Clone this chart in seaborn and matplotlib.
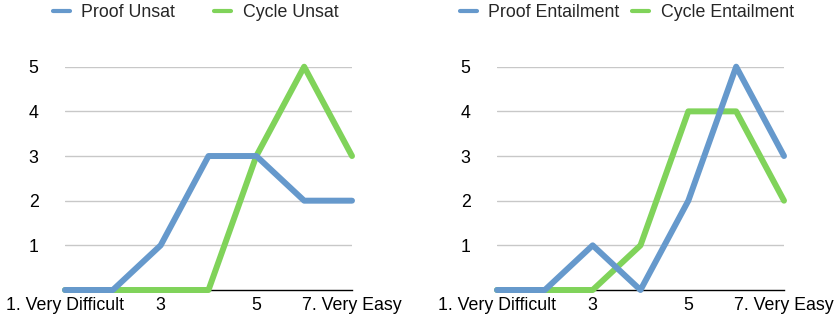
import matplotlib
matplotlib.use("Agg")
import matplotlib.pyplot as plt
from matplotlib.lines import Line2D
import seaborn as sns
import pandas as pd

# Difficulty ratings on a 1-7 scale
ratings = [1, 2, 3, 4, 5, 6, 7]
tick_positions = [1, 3, 5, 7]
tick_labels = ["1. Very Difficult", "3", "5", "7. Very Easy"]

proof_unsat = [0, 0, 1, 3, 3, 2, 2]
cycle_unsat = [0, 0, 0, 0, 3, 5, 3]
proof_entailment = [0, 0, 1, 0, 2, 5, 3]
cycle_entailment = [0, 0, 0, 1, 4, 4, 2]

BLUE = "#6699CC"
GREEN = "#80D35A"
FS = 12.8

sns.set_theme(style="white")
plt.rcParams["font.family"] = ["Liberation Sans", "DejaVu Sans"]

fig = plt.figure(figsize=(8.36, 3.26), dpi=100)
ax_left = fig.add_axes([65 / 836, 1 - 290 / 326, 287 / 836, (290 - 66.7) / 326])
ax_right = fig.add_axes([497 / 836, 1 - 290 / 326, 287 / 836, (290 - 66.7) / 326])

panels = [
    (ax_left, "Proof Unsat", proof_unsat, "Cycle Unsat", cycle_unsat, 53, 2.2),
    (ax_right, "Proof Entailment", proof_entailment, "Cycle Entailment", cycle_entailment, 460, 0.7),
]

for ax, name_a, vals_a, name_b, vals_b, leg_x, colsp in panels:
    df = pd.DataFrame({
        "rating": ratings * 2,
        "count": vals_a + vals_b,
        "series": [name_a] * len(ratings) + [name_b] * len(ratings),
    })
    sns.lineplot(data=df, x="rating", y="count", hue="series",
                 hue_order=[name_b, name_a],
                 palette={name_a: BLUE, name_b: GREEN},
                 linewidth=4.3, ax=ax, legend=False, clip_on=False, zorder=3)
    ax.set_xlim(1, 7)
    ax.set_ylim(0, 5)
    ax.set_yticks([1, 2, 3, 4, 5])
    ax.set_yticklabels(["1", "2", "3", "4", "5"])
    ax.set_xticks(tick_positions)
    ax.set_xticklabels(tick_labels)
    ax.tick_params(axis="both", length=0, labelsize=FS, colors="black")
    ax.tick_params(axis="y", pad=19)
    ax.tick_params(axis="x", pad=5)
    ax.yaxis.grid(True, color="#C8C8C8", linewidth=1)
    ax.set_axisbelow(True)
    for side in ["left", "right", "top"]:
        ax.spines[side].set_visible(False)
    ax.spines["bottom"].set_color("black")
    ax.spines["bottom"].set_linewidth(1)
    ax.spines["bottom"].set_zorder(1)
    ax.set_xlabel("")
    ax.set_ylabel("")

    handles = [Line2D([], [], color=BLUE, linewidth=3),
               Line2D([], [], color=GREEN, linewidth=3)]
    ax.legend(handles, [name_a, name_b], ncol=2, frameon=False,
              loc="upper left", bbox_to_anchor=(leg_x / 836, 1 - 4 / 326),
              bbox_transform=fig.transFigure, fontsize=FS,
              handlelength=0.95, columnspacing=colsp, handletextpad=0.65,
              borderaxespad=0, borderpad=0)

fig.savefig("out.png", dpi=100)
